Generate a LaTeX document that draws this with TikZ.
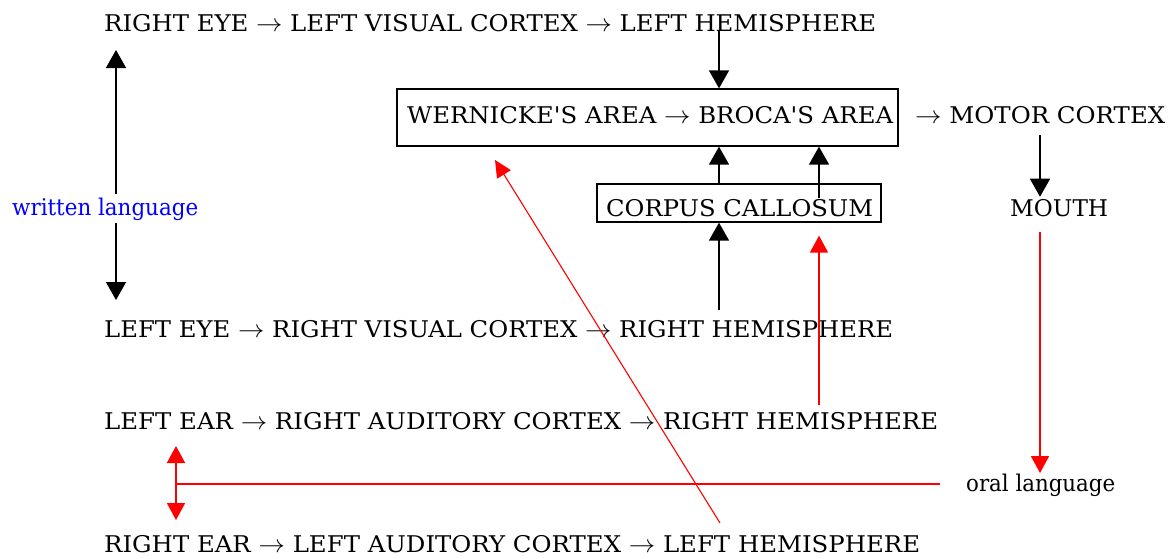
\documentclass[tikz,border=0pt]{standalone}
\usepackage{fontspec}
\setmainfont{DejaVu Serif}
\usepackage{graphicx}
\usetikzlibrary{arrows.meta,calc}
\newcommand\fitw[2]{\sbox0{#2}\scalebox{\fpeval{#1/(\the\wd0)}}[1]{\usebox0}}
\newcommand\ar{$\rightarrow$}
\begin{document}
\begin{tikzpicture}[x=1pt,y=-1pt,
  txt/.style={inner sep=0pt,anchor=base west,font=\fontsize{23}{23}\selectfont},
  boxed/.style={draw,line width=1.3pt,inner sep=0pt},
  blk/.style={line width=1.5pt,-{Triangle[width=20pt,length=18pt]}},
  redln/.style={draw=red,line width=1.8pt},
  redtip/.style={-{Triangle[width=18pt,length=17pt]}},
]
\useasboundingbox (0,0) rectangle (1173,558);
% text rows
\node[txt] (r1) at (104,31) {\fitw{772}{RIGHT EYE \ar{} LEFT VISUAL CORTEX \ar{} LEFT HEMISPHERE}};
\node[boxed,minimum width=501,minimum height=57] (box1) at (647.5,117.5) {};
\node[txt] (wb) at (407,123.5) {\fitw{486}{WERNICKE\textquotesingle S AREA \ar{} BROCA\textquotesingle S AREA}};
\node[txt] (mc) at (915,123.5) {\fitw{250}{\ar{} MOTOR CORTEX}};
\node[boxed,minimum width=284,minimum height=38] (box2) at (739,203) {};
\node[txt] (cc) at (606,216) {\fitw{267}{CORPUS CALLOSUM}};
\node[txt] (mo) at (1010,216) {\fitw{98}{MOUTH}};
\node[txt,text=blue] (wl) at (12,215) {\fitw{186}{written language}};
\node[txt] (r2) at (104,337.5) {\fitw{789}{LEFT EYE \ar{} RIGHT VISUAL CORTEX \ar{} RIGHT HEMISPHERE}};
\node[txt] (r3) at (104,429.5) {\fitw{834}{LEFT EAR \ar{} RIGHT AUDITORY CORTEX \ar{} RIGHT HEMISPHERE}};
\node[txt] (r4) at (104,552.5) {\fitw{816}{RIGHT EAR \ar{} LEFT AUDITORY CORTEX \ar{} LEFT HEMISPHERE}};
\node[txt] (ol) at (966,491) {\fitw{149}{oral language}};
% guide coordinates
\coordinate (ax) at (719,0);
\coordinate (bx) at (819,0);
\coordinate (lx) at (116,0);
\coordinate (mx) at (1040,0);
\coordinate (wtop) at (116,50);
\coordinate (wbot) at (116,300);
\coordinate (r2up) at (719,310);
\coordinate (r3up) at (819,405);
\coordinate (mcdown) at (1040,135);
\coordinate (modown) at (1040,232);
\coordinate (oltip) at (1040,473);
\coordinate (eup) at (176,446);
\coordinate (edown) at (176,520);
\coordinate (hl) at (176,484);
\coordinate (hr) at (940,484);
\coordinate (dstart) at (720,523);
\coordinate (dtip) at (495,160);
% black connectors
\draw[blk] (wl.north -| lx) ++(0,-3) -- (wtop);
\draw[blk] (wl.south -| lx) ++(0,3) -- (wbot);
\draw[blk] (r1.base -| ax) -- (box1.north -| ax);
\draw[blk] (box2.north -| ax) -- (box1.south -| ax);
\draw[blk] ($(box2.center -| bx)+(0,-5)$) -- (box1.south -| bx);
\draw[blk] (r2up) -- (box2.south -| ax);
\draw[blk] (mcdown) -- ($(mo.north -| mx)+(0,-2)$);
% red connectors
\draw[redln,redtip] (r3up) -- ($(box2.south -| bx)+(0,13)$);
\draw[redln,redtip] (modown) -- (oltip);
\draw[redln,{Triangle[width=18pt,length=17pt]}-{Triangle[width=18pt,length=17pt]}] (eup) -- (edown);
\draw[redln] (hl) -- (hr);
\draw[draw=red,line width=1.1pt,-{Triangle[width=16pt,length=17pt]}] (dstart) -- (dtip);
\end{tikzpicture}
\end{document}
